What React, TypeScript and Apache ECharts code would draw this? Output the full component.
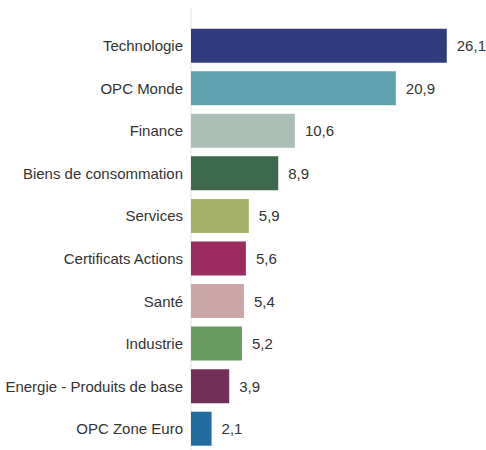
import React, { useEffect, useRef } from "react";
import * as echarts from "echarts";

const categories = [
  "Technologie",
  "OPC Monde",
  "Finance",
  "Biens de consommation",
  "Services",
  "Certificats Actions",
  "Santé",
  "Industrie",
  "Energie - Produits de base",
  "OPC Zone Euro",
];
const values = [26.1, 20.9, 10.6, 8.9, 5.9, 5.6, 5.4, 5.2, 3.9, 2.1];
const colors = [
  "#2F3C7E",
  "#5FA1AC",
  "#AABFB6",
  "#3D684B",
  "#A3AE66",
  "#9B2C60",
  "#CAA6A6",
  "#6B9A65",
  "#722F58",
  "#236C9F",
];

export default function App() {
  const ref = useRef<HTMLDivElement>(null);
  useEffect(() => {
    if (!ref.current) return;
    const chart = echarts.init(ref.current, undefined, { renderer: "svg" });
    chart.setOption({
      animation: false,
      grid: { left: 191, top: 24.35, height: 431, width: 294, containLabel: false },
      xAxis: {
        type: "value",
        min: 0,
        max: 30,
        show: false,
      },
      yAxis: {
        type: "category",
        data: categories,
        inverse: true,
        axisLine: { show: false },
        axisTick: { show: false },
        axisLabel: {
          margin: 8,
          padding: [3, 0, 0, 0],
          fontFamily: "Liberation Sans, Arial, sans-serif",
          fontSize: 15,
          color: "#333333",
        },
      },
      graphic: [
        {
          type: "line",
          shape: { x1: 191, y1: 8, x2: 191, y2: 450 },
          style: { stroke: "#E2E2E2", lineWidth: 1 },
          z: 0,
        },
      ],
      series: [
        {
          type: "bar",
          barWidth: 34,
          data: values.map((v, i) => ({ value: v, itemStyle: { color: colors[i] } })),
          label: {
            show: true,
            position: "right",
            distance: 10,
            fontFamily: "Liberation Sans, Arial, sans-serif",
            fontSize: 15,
            color: "#333333",
            formatter: (p: any) => String(p.value).replace(".", ","),
          },
        },
      ],
    });
    return () => chart.dispose();
  }, []);
  return (
    <div
      ref={ref}
      style={{ position: "fixed", left: 0, top: 0, width: 486, height: 450, background: "#fff" }}
    />
  );
}
